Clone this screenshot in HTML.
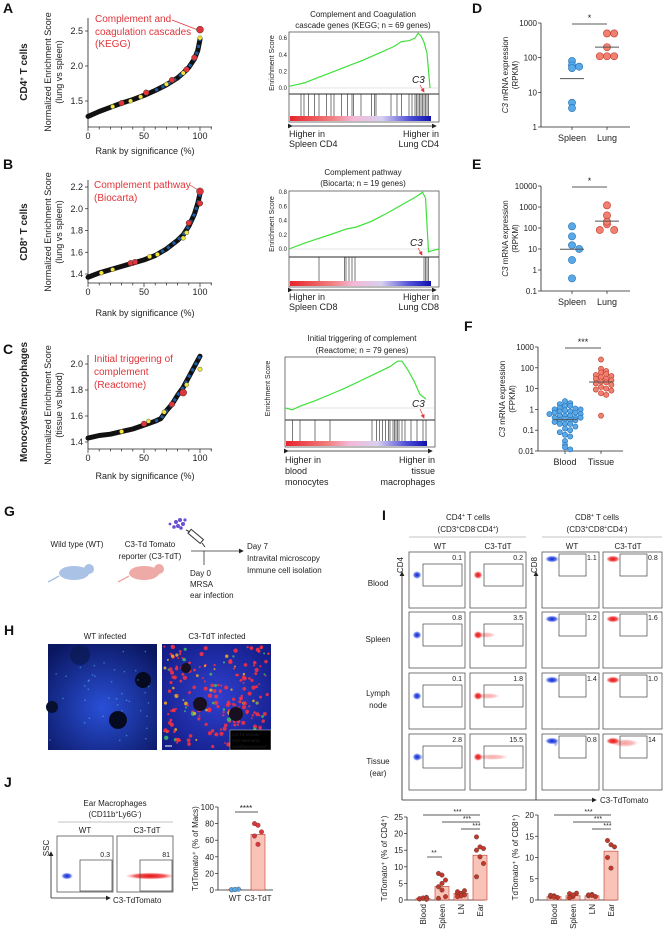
<!DOCTYPE html>
<html><head><meta charset="utf-8"><style>
html,body{margin:0;padding:0;background:#fff;}
svg{display:block;font-family:"Liberation Sans",sans-serif;}
text{fill:#222;}
.pl{font-weight:bold;font-size:14px;fill:#111;}
.t9{font-size:9px;}
.t8{font-size:8px;}
.t7{font-size:7px;}
.red{fill:#e0353a;}
</style></head><body>
<svg id="root" width="663" height="934" viewBox="0 0 663 934" xmlns="http://www.w3.org/2000/svg">
<defs>
<linearGradient id="cbar" x1="0" x2="1" y1="0" y2="0">
<stop offset="0" stop-color="#e8242c"/><stop offset="0.3" stop-color="#f08080"/><stop offset="0.45" stop-color="#f4b8d8"/><stop offset="0.65" stop-color="#d8d0f0"/><stop offset="0.85" stop-color="#5050d8"/><stop offset="1" stop-color="#1010b0"/></linearGradient>
<radialGradient id="gb"><stop offset="0" stop-color="#1020d0"/><stop offset="0.6" stop-color="#3050e0" stop-opacity="0.8"/><stop offset="1" stop-color="#90a0ff" stop-opacity="0"/></radialGradient>
<radialGradient id="gr"><stop offset="0" stop-color="#e01010"/><stop offset="0.6" stop-color="#f03030" stop-opacity="0.8"/><stop offset="1" stop-color="#ff9090" stop-opacity="0"/></radialGradient>
<radialGradient id="wtimg" cx="0.5" cy="0.6" r="0.7"><stop offset="0" stop-color="#2a50d8"/><stop offset="1" stop-color="#0a1660"/></radialGradient>
<radialGradient id="c3img" cx="0.5" cy="0.5" r="0.7"><stop offset="0" stop-color="#3040d0"/><stop offset="1" stop-color="#101a80"/></radialGradient>
<marker id="ah" markerWidth="6" markerHeight="6" refX="5" refY="3" orient="auto"><path d="M0,0 L6,3 L0,6 z" fill="#222"/></marker>
<marker id="ahr" markerWidth="6" markerHeight="6" refX="5" refY="3" orient="auto"><path d="M0,0 L6,3 L0,6 z" fill="#e0353a"/></marker>
</defs>

<text class="pl" x="3" y="13">A</text>
<text class="pl" x="3" y="169">B</text>
<text class="pl" x="3" y="354">C</text>
<text class="pl" x="472" y="13">D</text>
<text class="pl" x="472" y="169">E</text>
<text class="pl" x="464" y="331">F</text>
<text class="pl" x="4" y="516">G</text>
<text class="pl" x="4" y="635">H</text>
<text class="pl" x="382" y="520">I</text>
<text class="pl" x="4" y="787">J</text>

<text transform="translate(27,72) rotate(-90)" text-anchor="middle" style="font-size:10px;font-weight:bold">CD4<tspan baseline-shift="super" font-size="6">+</tspan> T cells</text>
<text transform="translate(27,232) rotate(-90)" text-anchor="middle" style="font-size:10px;font-weight:bold">CD8<tspan baseline-shift="super" font-size="6">+</tspan> T cells</text>
<text transform="translate(27,402) rotate(-90)" text-anchor="middle" style="font-size:10px;font-weight:bold">Monocytes/macrophages</text>

<text transform="translate(51,72) rotate(-90)" text-anchor="middle" class="t9">Normalized Enrichment Score</text>
<text transform="translate(62,72) rotate(-90)" text-anchor="middle" class="t9">(lung vs spleen)</text>
<text transform="translate(51,232) rotate(-90)" text-anchor="middle" class="t9">Normalized Enrichment Score</text>
<text transform="translate(62,232) rotate(-90)" text-anchor="middle" class="t9">(lung vs spleen)</text>
<text transform="translate(51,405) rotate(-90)" text-anchor="middle" class="t9">Normalized Enrichment Score</text>
<text transform="translate(62,405) rotate(-90)" text-anchor="middle" class="t9">(tissue vs blood)</text>
<text x="145" y="154" text-anchor="middle" class="t9">Rank by significance (%)</text>
<text x="145" y="316" text-anchor="middle" class="t9">Rank by significance (%)</text>
<text x="145" y="479" text-anchor="middle" class="t9">Rank by significance (%)</text>

<g style="font-size:10px">
<text x="95" y="22" class="red">Complement and</text><text x="95" y="35" class="red">coagulation cascades</text><text x="95" y="47" class="red">(KEGG)</text></g>
<line x1="172" y1="20" x2="198" y2="30" stroke="#e0353a" stroke-width="0.7"/>
<g style="font-size:10px">
<text x="94" y="188" class="red">Complement pathway</text><text x="94" y="201" class="red">(Biocarta)</text></g>
<line x1="190" y1="185" x2="198" y2="190" stroke="#e0353a" stroke-width="0.7"/>
<g style="font-size:10px">
<text x="94" y="362" class="red">Initial triggering of</text><text x="94" y="375" class="red">complement</text><text x="94" y="388" class="red">(Reactome)</text></g>

<text x="363" y="17" text-anchor="middle" class="t8">Complement and Coagulation</text>
<text x="363" y="28" text-anchor="middle" class="t8">cascade genes (KEGG; n = 69 genes)</text>
<text x="363" y="175" text-anchor="middle" class="t8">Complement pathway</text>
<text x="363" y="186" text-anchor="middle" class="t8">(Biocarta; n = 19 genes)</text>
<text x="362" y="341" text-anchor="middle" class="t8">Initial triggering of complement</text>
<text x="362" y="353" text-anchor="middle" class="t8">(Reactome; n = 79 genes)</text>

<g class="t8"><text x="293" y="42">NES = 2.54</text><text x="293" y="52">p &lt; 0.0001</text><text x="293" y="62">FDR &lt; 0.0001</text></g>
<g class="t8"><text x="293" y="200">NES = 2.17</text><text x="293" y="210">p &lt; 0.0001</text><text x="293" y="220">FDR 0.003</text></g>
<g class="t8"><text x="289" y="368">NES = 1.72</text><text x="289" y="379">p &lt; 0.0001</text><text x="289" y="390">FDR 0.018</text></g>

<g class="t9"><text x="289" y="137">Higher in</text><text x="289" y="147">Spleen CD4</text><text x="439" y="137" text-anchor="end">Higher in</text><text x="439" y="147" text-anchor="end">Lung CD4</text></g>
<g class="t9"><text x="289" y="300">Higher in</text><text x="289" y="310">Spleen CD8</text><text x="439" y="300" text-anchor="end">Higher in</text><text x="439" y="310" text-anchor="end">Lung CD8</text></g>
<g class="t9"><text x="285" y="463">Higher in</text><text x="285" y="474">blood</text><text x="285" y="485">monocytes</text><text x="435" y="463" text-anchor="end">Higher in</text><text x="435" y="474" text-anchor="end">tissue</text><text x="435" y="485" text-anchor="end">macrophages</text></g>

<g>
<text x="77" y="547" text-anchor="middle" class="t8">Wild type (WT)</text>
<text x="150" y="547" text-anchor="middle" class="t8">C3-Td Tomato</text>
<text x="150" y="559" text-anchor="middle" class="t8">reporter (C3-TdT)</text>
<g><ellipse cx="74" cy="573" rx="15" ry="7" fill="#a9c2e6"/><circle cx="89" cy="569" r="5" fill="#a9c2e6"/><path d="M59,576 Q52,580 48,582" stroke="#a9c2e6" stroke-width="1.5" fill="none"/></g>
<g><ellipse cx="144" cy="573" rx="15" ry="7" fill="#eeaaa6"/><circle cx="159" cy="569" r="5" fill="#eeaaa6"/><path d="M129,576 Q122,580 118,582" stroke="#eeaaa6" stroke-width="1.5" fill="none"/></g>
<g fill="#6a4fd0"><circle cx="176" cy="522" r="2"/><circle cx="180" cy="520" r="2"/><circle cx="183" cy="524" r="2"/><circle cx="178" cy="526" r="2"/><circle cx="174" cy="527" r="1.8"/><circle cx="181" cy="528" r="1.8"/><circle cx="185" cy="520" r="1.6"/><circle cx="170" cy="524" r="1.4"/></g>
<g stroke="#333" stroke-width="1" fill="#fff"><rect x="188" y="534" width="16" height="5" transform="rotate(40 196 536)"/><line x1="202" y1="543" x2="205" y2="547"/><line x1="186" y1="530" x2="190" y2="532"/></g>
<line x1="191" y1="551" x2="243" y2="551" stroke="#333" stroke-width="0.8" marker-end="url(#ah)"/>
<line x1="204" y1="551" x2="204" y2="565" stroke="#333" stroke-width="0.8"/>
<text x="190" y="576" class="t8">Day 0</text><text x="190" y="587" class="t8">MRSA</text><text x="190" y="598" class="t8">ear infection</text>
<text x="247" y="549" class="t8">Day 7</text><text x="247" y="561" class="t8">Intravital microscopy</text><text x="247" y="573" class="t8">Immune cell isolation</text>
</g>

<text x="105" y="639" text-anchor="middle" class="t8">WT infected</text>
<text x="217" y="639" text-anchor="middle" class="t8">C3-TdT infected</text>
<g id="himg">
<rect x="48" y="644" width="109" height="106" fill="url(#wtimg)"/>
<rect x="162" y="644" width="109" height="106" fill="url(#c3img)"/>
<circle cx="143" cy="680" r="8" fill="#050a20"/><circle cx="118" cy="720" r="9" fill="#050a20"/><circle cx="52" cy="707" r="6" fill="#081030"/><circle cx="80" cy="655" r="10" fill="#0a1850" opacity="0.7"/>
</g>

<g class="t8">
<text x="468" y="520" text-anchor="middle">CD4<tspan baseline-shift="super" font-size="5">+</tspan> T cells</text>
<text x="468" y="532" text-anchor="middle">(CD3<tspan baseline-shift="super" font-size="5">+</tspan>CD8<tspan baseline-shift="super" font-size="5">-</tspan>CD4<tspan baseline-shift="super" font-size="5">+</tspan>)</text>
<line x1="409" y1="537" x2="526" y2="537" stroke="#888" stroke-width="0.6"/>
<text x="440" y="549" text-anchor="middle">WT</text><text x="498" y="549" text-anchor="middle">C3-TdT</text>
<text x="597" y="520" text-anchor="middle">CD8<tspan baseline-shift="super" font-size="5">+</tspan> T cells</text>
<text x="597" y="532" text-anchor="middle">(CD3<tspan baseline-shift="super" font-size="5">+</tspan>CD8<tspan baseline-shift="super" font-size="5">+</tspan>CD4<tspan baseline-shift="super" font-size="5">-</tspan>)</text>
<line x1="542" y1="537" x2="662" y2="537" stroke="#888" stroke-width="0.6"/>
<text x="572" y="549" text-anchor="middle">WT</text><text x="628" y="549" text-anchor="middle">C3-TdT</text>
<text x="378" y="586" text-anchor="middle">Blood</text><text x="378" y="642" text-anchor="middle">Spleen</text>
<text x="378" y="696" text-anchor="middle">Lymph</text><text x="378" y="708" text-anchor="middle">node</text>
<text x="378" y="764" text-anchor="middle">Tissue</text><text x="378" y="776" text-anchor="middle">(ear)</text>
<text transform="translate(403,565) rotate(-90)" text-anchor="middle">CD4</text>
<text transform="translate(537,565) rotate(-90)" text-anchor="middle">CD8</text>
<text x="600" y="803">C3-TdTomato</text>
</g>
<line x1="402" y1="800" x2="402" y2="572" stroke="#222" stroke-width="0.8" marker-end="url(#ah)"/>
<line x1="536" y1="800" x2="536" y2="572" stroke="#222" stroke-width="0.8" marker-end="url(#ah)"/>
<line x1="402" y1="800" x2="596" y2="800" stroke="#222" stroke-width="0.8" marker-end="url(#ah)"/>

<g class="t8">
<text x="115" y="806" text-anchor="middle">Ear Macrophages</text>
<text x="115" y="817" text-anchor="middle">(CD11b<tspan baseline-shift="super" font-size="5">+</tspan>Ly6G<tspan baseline-shift="super" font-size="5">-</tspan>)</text>
<line x1="58" y1="822" x2="173" y2="822" stroke="#888" stroke-width="0.6"/>
<text x="85" y="833" text-anchor="middle">WT</text><text x="147" y="833" text-anchor="middle">C3-TdT</text>
<text transform="translate(49,848) rotate(-90)" text-anchor="middle">SSC</text>
<text x="113" y="903">C3-TdTomato</text>
</g>
<line x1="51" y1="898" x2="51" y2="852" stroke="#222" stroke-width="0.8" marker-end="url(#ah)"/>
<line x1="51" y1="898" x2="110" y2="898" stroke="#222" stroke-width="0.8" marker-end="url(#ah)"/>
</svg>

<script>
const NS='http://www.w3.org/2000/svg';
const svg=document.getElementById('root');
function mk(tag,attrs,parent){const e=document.createElementNS(NS,tag);for(const k in attrs)e.setAttribute(k,attrs[k]);(parent||svg).appendChild(e);return e;}
function tx(x,y,s,attrs){const e=mk('text',Object.assign({x:x,y:y},attrs||{}));e.textContent=s;return e;}

/* ---------- Scatter (A/B/C) data ---------- */
const aRank=[0,10,20,30,40,50,60,70,80,85,90,95,98,100];
const aNES=[1.28,1.35,1.41,1.47,1.52,1.58,1.65,1.73,1.83,1.9,1.98,2.1,2.22,2.38];
const aRedRank=[30,52,75,88,95,100];
const aRedNES=[1.47,1.62,1.8,1.95,2.12,2.52];
const aYelRank=[22,38,47,70,85,100];
const aYelNES=[1.42,1.5,1.56,1.74,1.9,2.4];
const bRank=[0,10,20,30,40,50,60,70,80,85,90,95,98,100];
const bNES=[1.37,1.41,1.44,1.47,1.5,1.53,1.57,1.63,1.71,1.76,1.84,1.95,2.05,2.14];
const bRedRank=[38,42,90,100,100];
const bRedNES=[1.5,1.51,1.87,2.05,2.16];
const bYelRank=[12,22,55,62,85,88];
const bYelNES=[1.41,1.44,1.56,1.58,1.73,1.78];
const cRank=[0,10,20,30,40,50,60,65,70,75,80,85,90,95,100];
const cNES=[1.43,1.45,1.46,1.48,1.5,1.53,1.56,1.58,1.64,1.69,1.76,1.82,1.9,1.98,2.06];
const cRedRank=[50,75,85];
const cRedNES=[1.54,1.69,1.78];
const cYelRank=[30,54,68,88,100];
const cYelNES=[1.48,1.56,1.63,1.84,1.96];

function scatterPanel(key,top,bot,yScale,ticks,tickLbl,rank,nes,rr,rn,yr,yn){
  const xS=r=>88+r*1.12;
  const g=mk('g',{});
  
  
  mk('line',{x1:88,y1:top,x2:88,y2:bot,stroke:'#222','stroke-width':0.8},g);
  mk('line',{x1:88,y1:bot,x2:212,y2:bot,stroke:'#222','stroke-width':0.8},g);
  for(let i=0;i<=11;i++){mk('line',{x1:xS(i*10),y1:bot,x2:xS(i*10),y2:bot+(i%5==0?4:2.5),stroke:'#222','stroke-width':0.7},g);}
  [0,50,100].forEach(v=>{const t=tx(xS(v),bot+12,String(v),{'text-anchor':'middle','font-size':9});g.appendChild(t);});
  ticks.forEach((v,i)=>{mk('line',{x1:85,y1:yScale(v),x2:88,y2:yScale(v),stroke:'#222','stroke-width':0.7},g);const t=tx(83,yScale(v)+3,tickLbl[i],{'text-anchor':'end','font-size':9});g.appendChild(t);});
  const pts=rank.map((r,i)=>xS(r)+','+yScale(nes[i])).join(' ');
  const pl=mk('polyline',{points:pts,fill:'none',stroke:'#111','stroke-width':5,'stroke-linecap':'round','stroke-linejoin':'round'},g);
  
  
  const pb=mk('polyline',{points:rank.filter(r=>r>=60).map(r=>xS(r)+','+yScale(nes[rank.indexOf(r)])).join(' '),fill:'none',stroke:'#1c5fa8','stroke-width':3,'stroke-dasharray':'3 4'},g);
  
  
  yr.forEach((r,i)=>{const c=mk('circle',{cx:xS(r),cy:yScale(yn[i]),r:2.2,fill:'#f2e63a',stroke:'#333','stroke-width':0.4},g);
    
    });
  rr.forEach((r,i)=>{const c=mk('circle',{cx:xS(r),cy:yScale(rn[i]),r:i==rr.length-1?3.5:2.8,fill:'#e0353a',stroke:'#222','stroke-width':0.4},g);
    
    });
}
scatterPanel('a',18,127,v=>101-(v-1.5)*70,[1.5,2.0,2.5],['1.5','2.0','2.5'],aRank,aNES,aRedRank,aRedNES,aYelRank,aYelNES);
scatterPanel('b',180,283,v=>274-(v-1.4)*108.75,[1.4,1.6,1.8,2.0,2.2],['1.4','1.6','1.8','2.0','2.2'],bRank,bNES,bRedRank,bRedNES,bYelRank,bYelNES);
scatterPanel('c',355,449,v=>442-(v-1.4)*130,[1.4,1.6,1.8,2.0],['1.4','1.6','1.8','2.0'],cRank,cNES,cRedRank,cRedNES,cYelRank,cYelNES);

/* ---------- GSEA data ---------- */
const gaPos=[0,0.05,0.1,0.2,0.3,0.4,0.5,0.6,0.7,0.75,0.8,0.84,0.86,0.88,0.9,0.92,0.94];
const gaES=[0.02,0.04,0.06,0.13,0.2,0.27,0.34,0.42,0.5,0.56,0.57,0.6,0.66,0.63,0.55,0.42,0.0];
const gaHits=[0.08,0.1,0.13,0.17,0.2,0.25,0.28,0.3,0.35,0.39,0.42,0.43,0.48,0.55,0.57,0.58,0.68,0.72,0.75,0.8,0.82,0.84,0.85,0.86,0.87,0.88,0.89,0.9,0.91,0.92,0.93];
const gbPos=[0,0.1,0.2,0.3,0.38,0.45,0.55,0.65,0.75,0.85,0.89,0.91,0.93,0.96,1.0];
const gbES=[0,0.08,0.15,0.22,0.28,0.31,0.39,0.5,0.62,0.74,0.8,0.72,-0.04,-0.02,0.0];
const gbHits=[0.2,0.37,0.38,0.4,0.42,0.44,0.9,0.91,0.92,0.93];
const gcPos=[0,0.05,0.1,0.2,0.3,0.4,0.5,0.6,0.7,0.75,0.78,0.82,0.86,0.9,0.94];
const gcES=[0.0,-0.02,0.02,0.08,0.15,0.22,0.3,0.38,0.46,0.52,0.52,0.42,0.3,0.15,0.1];
const gcHits=[0.05,0.1,0.2,0.3,0.58,0.61,0.63,0.65,0.67,0.69,0.7,0.72,0.73,0.74,0.75,0.76,0.78,0.8,0.84,0.88,0.92,0.94];

function gsea(key,x0,x1,top,base,unit,div,bot,cbTop,arrowY,ticks,pos,es,hits,c3x,c3y){
  const g=mk('g',{});
  
  
  const W=x1-x0;
  mk('rect',{x:x0,y:top,width:W,height:bot-top,fill:'#fff',stroke:'#555','stroke-width':0.8},g);
  mk('line',{x1:x0,y1:div,x2:x1,y2:div,stroke:'#555','stroke-width':1.2},g);
  mk('line',{x1:x0,y1:base,x2:x1,y2:base,stroke:'#ccc','stroke-width':0.6},g);
  const cb=mk('rect',{x:x0+1,y:cbTop,width:W*0.94,height:bot-cbTop-1,fill:'url(#cbar)'},g);
  
  
  hits.forEach(h=>{const l=mk('line',{x1:x0+h*W,y1:div,x2:x0+h*W,y2:cbTop,stroke:'#222','stroke-width':0.6},g);
    
    });
  const pl=mk('polyline',{points:pos.map((p,i)=>(x0+p*W)+','+(base-es[i]*unit)).join(' '),fill:'none',stroke:'#3ee03a','stroke-width':1.2},g);
  
  
  ticks.forEach(v=>{const t=tx(x0-2,base-v*unit+2,v.toFixed(1),{'text-anchor':'end','font-size':6});g.appendChild(t);});
  const yl=tx(0,0,'Enrichment Score',{'text-anchor':'middle','font-size':7,transform:'translate('+(x0-15)+','+((top+div)/2)+') rotate(-90)'});g.appendChild(yl);
  mk('line',{x1:x0+3,y1:arrowY,x2:x1-3,y2:arrowY,stroke:'#222','stroke-width':0.8,'marker-end':'url(#ah)','marker-start':'url(#ah)'},g);
  const c3=tx(c3x,c3y,'C3',{'font-size':10,'font-style':'italic',fill:'#e0353a'});g.appendChild(c3);
  mk('line',{x1:c3x+8,y1:c3y+2,x2:c3x+12,y2:div-2,stroke:'#e0353a','stroke-width':0.7,'marker-end':'url(#ahr)'},g);
}
gsea('a',289,439,32,88,83,94,122,116,126,[0,0.2,0.4,0.6],gaPos,gaES,gaHits,412,83);
gsea('b',289,439,191,249,71,257,287,281,290,[0,0.2,0.4,0.6,0.8],gbPos,gbES,gbHits,410,246);
gsea('c',285,435,357,408,90,420,447,441,451,[],gcPos,gcES,gcHits,412,407);

/* ---------- D/E/F dot plots (log) ---------- */
const dSpleen=[80,60,55,50,5,3.5];
const dLung=[500,500,200,110,110,110];
const eSpleen=[120,40,15,10,3,0.4];
const eLung=[1200,400,150,80,80,200];
const fBlood=[2.5,2,1.8,1.5,1.5,1.2,1.1,1,1,0.9,0.8,0.8,0.7,0.7,0.6,0.6,0.5,0.5,0.5,0.4,0.4,0.4,0.35,0.3,0.3,0.3,0.25,0.2,0.2,0.2,0.15,0.12,0.1,0.08,0.06,0.05,0.03,0.02,0.015,0.012];
const fTissue=[250,90,70,60,50,45,40,35,30,30,25,22,20,18,15,12,10,9,8,6,5,0.5];

function logDots(key,xAx,xR,yTop,yBot,decMin,decMax,tickLbl,xc1,xc2,cat,g1,g2,r,unitLbl,sig){
  const g=mk('g',{});
  
  
  const per=(yBot-yTop)/(decMax-decMin);
  const yS=v=>yBot-(Math.log10(v)-decMin)*per;
  mk('line',{x1:xAx,y1:yTop,x2:xAx,y2:yBot,stroke:'#222','stroke-width':0.8},g);
  mk('line',{x1:xAx,y1:yBot,x2:xR,y2:yBot,stroke:'#222','stroke-width':0.8},g);
  tickLbl.forEach((s,i)=>{const y=yS(Math.pow(10,decMin+i));mk('line',{x1:xAx-3,y1:y,x2:xAx,y2:y,stroke:'#222','stroke-width':0.7},g);const t=tx(xAx-4,y+3,s,{'text-anchor':'end','font-size':8});g.appendChild(t);});
  [xc1,xc2].forEach((x,i)=>{mk('line',{x1:x,y1:yBot,x2:x,y2:yBot+3,stroke:'#222','stroke-width':0.7},g);const t=tx(x,yBot+14,cat[i],{'text-anchor':'middle','font-size':9});g.appendChild(t);});
  [[g1,xc1,'#5aa9e6','#1f6fb8'],[g2,xc2,'#f08070','#c0392b']].forEach(([arr,xc,fc,sc])=>{
    const counts={};
    arr.forEach(v=>{const b=Math.round(yS(v)/(r*1.8));counts[b]=(counts[b]||0)+1;const k=counts[b]-1;const off=(k%2?1:-1)*Math.ceil(k/2)*r*2;
      const c=mk('circle',{cx:xc+off,cy:yS(v),r:r,fill:fc,stroke:sc,'stroke-width':0.6},g);
      
      });
    const gm=Math.pow(10,arr.reduce((s,v)=>s+Math.log10(v),0)/arr.length);
    const m=mk('line',{x1:xc-12,y1:yS(gm),x2:xc+12,y2:yS(gm),stroke:'#555','stroke-width':1},g);
    
    
  });
  mk('line',{x1:xc1,y1:yTop+1,x2:xc2,y2:yTop+1,stroke:'#222','stroke-width':0.8},g);
  const st=tx((xc1+xc2)/2,yTop-2,sig,{'text-anchor':'middle','font-size':9});g.appendChild(st);
  const yl=mk('text',{'text-anchor':'middle','font-size':8,transform:'translate('+(xAx-33)+','+((yTop+yBot)/2)+') rotate(-90)'},g);
  const t1=mk('tspan',{'font-style':'italic'},yl);t1.textContent='C3';
  const t2=mk('tspan',{},yl);t2.textContent=' mRNA expression';
  const yl2=tx(0,0,unitLbl,{'text-anchor':'middle','font-size':8,transform:'translate('+(xAx-23)+','+((yTop+yBot)/2)+') rotate(-90)'});g.appendChild(yl2);
}
logDots('d',541,630,23,127,0,3,['1','10','100','1000'],572,607,['Spleen','Lung'],dSpleen,dLung,3.6,'(RPKM)','*');
logDots('e',541,630,186,291,-1,4,['0.1','1','10','100','1000','10000'],572,607,['Spleen','Lung'],eSpleen,eLung,3.6,'(RPKM)','*');
logDots('f',538,623,347,451,-2,3,['0.01','0.1','1','10','100','1000'],565,601,['Blood','Tissue'],fBlood,fTissue,2.6,'(FPKM)','***');

/* ---------- H microscopy texture (decorative) ---------- */
const himg=document.getElementById('himg');
let seed=7;
function rnd(){seed=(seed*16807)%2147483647;return seed/2147483647;}
for(let i=0;i<40;i++){mk('circle',{cx:50+rnd()*105,cy:646+rnd()*102,r:0.8,fill:'#60c0ff',opacity:0.5},himg);}
for(let i=0;i<220;i++){
  const x=164+rnd()*105, y=646+rnd()*102;
  if(x>229&&y>729)continue;
  const q=rnd();
  mk('circle',{cx:x,cy:y,r:0.9+rnd()*1.3,fill:q<0.12?'#f0b020':(q<0.22?'#40c060':'#ff3040'),opacity:0.85},himg);
}
[[200,704,7],[236,714,7],[186,668,5]].forEach(p=>mk('circle',{cx:p[0],cy:p[1],r:p[2],fill:'#181020'},himg));
const lg=mk('rect',{x:230,y:730,width:41,height:20,fill:'#000',stroke:'#fff','stroke-width':0.4},himg);


tx(232,736,'C3-Td tomato',{'font-size':4.5,fill:'#ff2020'});
tx(232,742,'2nd Harmonic',{'font-size':4.5,fill:'#3050ff'});
tx(232,748,'Autofluorescence',{'font-size':4.5,fill:'#f0d020'});
mk('line',{x1:165,y1:746,x2:172,y2:746,stroke:'#fff','stroke-width':1});

/* ---------- I flow plots ---------- */
const cd4WT=['0.1','0.8','0.1','2.8'];
const cd4C3=['0.2','3.5','1.8','15.5'];
const cd8WT=['1.1','1.2','1.4','0.8'];
const cd8C3=['0.8','1.6','1.0','14'];
const rowsY=[552,612,673,734];
function flowBox(x,y,w,type,color,val,smear){
  const g=mk('g',{});
  
  
  mk('rect',{x:x,y:y,width:w,height:56,fill:'#fff',stroke:'#555','stroke-width':0.8},g);
  const grad=color=='b'?'url(#gb)':'url(#gr)';
  if(type=='cd4'){
    if(smear>0)mk('ellipse',{cx:x+8+smear*10,cy:y+23,rx:smear*12,ry:3,fill:grad,opacity:0.35},g);
    mk('ellipse',{cx:x+8,cy:y+23,rx:4.5,ry:4,fill:grad},g);
    mk('rect',{x:x+14,y:y+12,width:39,height:22,fill:'none',stroke:'#444','stroke-width':0.7},g);
    const t=tx(x+w-3,y+8,val,{'text-anchor':'end','font-size':7});g.appendChild(t);
  } else {
    if(smear>0)mk('ellipse',{cx:x+12+smear*8,cy:y+9,rx:smear*12,ry:4,fill:grad,opacity:0.4},g);
    mk('ellipse',{cx:x+10,cy:y+7,rx:7,ry:3.5,fill:grad},g);
    mk('rect',{x:x+17,y:y+2,width:27,height:22,fill:'none',stroke:'#444','stroke-width':0.7},g);
    const t=tx(x+45,y+8,val,{'font-size':7});g.appendChild(t);
  }
}
rowsY.forEach((y,i)=>{
  flowBox(409,y,56,'cd4','b',cd4WT[i],i==3?0.3:0);
  flowBox(470,y,56,'cd4','r',cd4C3[i],[0,0.8,1,1.4][i]);
  flowBox(542,y,57,'cd8','b',cd8WT[i],i==3?0.2:0);
  flowBox(603,y,59,'cd8','r',cd8C3[i],i==3?1.2:0);
});

/* ---------- I / J bar charts ---------- */
const iCats=['Blood','Spleen','LN','Ear'];
const cd4Mean=[0.5,4.1,2.0,13.5];
const cd4Pts=[[0.3,0.5,0.8,0.4,0.6,0.2],[8,7.5,6,4,3,1,0.5,5],[2.5,2,1.5,1.8,1.2,2.8,1],[19,16,15.5,15,13,11,7]];
const cd8Mean=[0.8,1.0,1.0,11.5];
const cd8Pts=[[0.8,1,0.6,1.1,0.7],[1.5,0.8,1.6,0.5,1.2],[1,1.3,0.8,1.2,1.1],[14,13,12.5,10,7.5]];
const jCats=['WT','C3-TdT'];
const jMean=[0.5,67];
const jPts=[[0.3,0.5,1,0.2,0.6],[80,78,70,65,55]];

function barChart(key,xAx,xR,y0,yTopV,pxPer,ticks,xs,cats,means,pts,ylab,rotLbl,ptColor){
  const g=mk('g',{});
  
  
  const yS=v=>y0-v*pxPer;
  mk('line',{x1:xAx,y1:yS(yTopV),x2:xAx,y2:y0,stroke:'#222','stroke-width':0.8},g);
  mk('line',{x1:xAx,y1:y0,x2:xR,y2:y0,stroke:'#222','stroke-width':0.8},g);
  ticks.forEach(v=>{mk('line',{x1:xAx-3,y1:yS(v),x2:xAx,y2:yS(v),stroke:'#222','stroke-width':0.7},g);const t=tx(xAx-4,yS(v)+3,String(v),{'text-anchor':'end','font-size':8});g.appendChild(t);});
  means.forEach((m,i)=>{
    const b=mk('rect',{x:xs[i]-7,y:yS(m),width:14,height:Math.max(0.5,m*pxPer),fill:'#f9c3b8',stroke:'#c0392b','stroke-width':0.6},g);
    
    
    pts[i].forEach((v,k)=>{const off=((k%3)-1)*3.5;const c=mk('circle',{cx:xs[i]+off,cy:yS(v),r:2.3,fill:ptColor(i),stroke:'#333','stroke-width':0.3},g);
      
      });
    const t=rotLbl?tx(0,0,cats[i],{'text-anchor':'end','font-size':8,transform:'translate('+(xs[i]+3)+','+(y0+4)+') rotate(-90)'}):tx(xs[i],y0+11,cats[i],{'text-anchor':'middle','font-size':8});
    g.appendChild(t);
  });
  const yl=tx(0,0,ylab,{'text-anchor':'middle','font-size':8,transform:'translate('+(xAx-20)+','+((yS(yTopV)+y0)/2)+') rotate(-90)'});g.appendChild(yl);
  return {g:g,yS:yS};
}
const c4=barChart('i-cd4',407,485,900,25,3.32,[0,5,10,15,20,25],[423,442,461,480],iCats,cd4Mean,cd4Pts,'TdTomato⁺ (% of CD4⁺)',true,i=>'#c0392b');
[[423,480,815],[442,480,822],[461,480,829]].forEach(s=>{mk('line',{x1:s[0],y1:s[2],x2:s[1],y2:s[2],stroke:'#222','stroke-width':0.7},c4.g);tx((s[0]+s[1])/2+6,s[2]-1,'***',{'text-anchor':'middle','font-size':7});});
mk('line',{x1:427,y1:857,x2:442,y2:857,stroke:'#222','stroke-width':0.7},c4.g);tx(434,855,'**',{'text-anchor':'middle','font-size':7});
const c8=barChart('i-cd8',538,617,900,20,4.25,[0,5,10,15,20],[554,573,592,611],iCats,cd8Mean,cd8Pts,'TdTomato⁺ (% of CD8⁺)',true,i=>'#c0392b');
[[554,611,815],[573,611,822],[592,611,829]].forEach(s=>{mk('line',{x1:s[0],y1:s[2],x2:s[1],y2:s[2],stroke:'#222','stroke-width':0.7},c8.g);tx((s[0]+s[1])/2+6,s[2]-1,'***',{'text-anchor':'middle','font-size':7});});
const jb=barChart('j',218,273,890,100,0.83,[0,20,40,60,80,100],[235,258],jCats,jMean,jPts,'TdTomato⁺ (% of Macs)',false,i=>i==0?'#5aa9e6':'#e0353a');
mk('line',{x1:235,y1:812,x2:258,y2:812,stroke:'#222','stroke-width':0.7},jb.g);tx(246,811,'****',{'text-anchor':'middle','font-size':8});

/* ---------- J flow plots ---------- */
const jVals=['0.3','81'];
[[57,'b',0],[117,'r',1]].forEach(([x,c,i])=>{
  const g=mk('g',{});
  
  
  mk('rect',{x:x,y:836,width:56,height:56,fill:'#fff',stroke:'#555','stroke-width':0.8},g);
  if(c=='r')mk('ellipse',{cx:x+33,cy:876,rx:25,ry:3.5,fill:'url(#gr)'},g);
  else mk('ellipse',{cx:x+10,cy:876,rx:6,ry:3.5,fill:'url(#gb)'},g);
  mk('rect',{x:x+23,y:860,width:32,height:31,fill:'none',stroke:'#444','stroke-width':0.7},g);
  const t=tx(x+53,857,jVals[i],{'text-anchor':'end','font-size':7});g.appendChild(t);
});
</script>
</body></html>
